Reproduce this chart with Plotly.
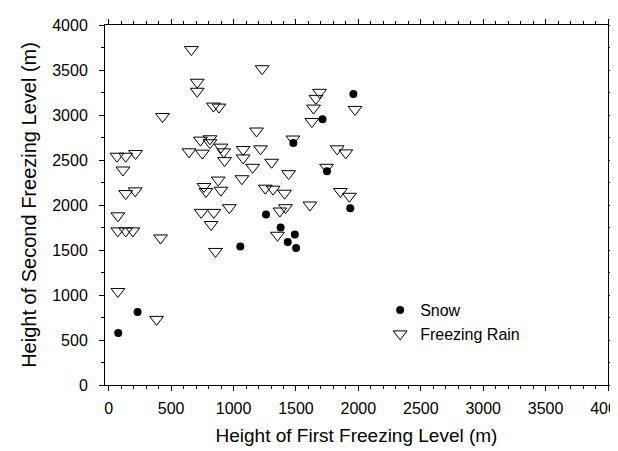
import plotly.graph_objects as go

# Freezing rain: first freezing level (m), second freezing level (m)
fzra_first = [662, 1229, 709, 709, 431, 839, 883, 643, 735, 750, 811, 811, 899, 921, 928,
              1077, 1077, 1184, 1216, 1153, 1305, 1067, 877, 899, 763, 779, 741, 842, 820,
              855, 966, 1254, 1317, 1409, 1441, 1371, 1416, 1352, 1476, 1628, 1641, 1660,
              1689, 1745, 1830, 1900, 1856, 1928, 1973, 1612, 66, 136, 215, 114, 136, 212,
              73, 73, 136, 193, 415, 73, 383]
fzra_second = [3727, 3514, 3364, 3264, 2983, 3099, 3088, 2591, 2721, 2576, 2736, 2692, 2643,
               2591, 2493, 2617, 2523, 2822, 2624, 2419, 2475, 2292, 2277, 2164, 2206, 2150,
               1918, 1918, 1783, 1484, 1970, 2187, 2176, 2131, 2348, 1933, 1970, 1664, 2733,
               2927, 3077, 3185, 3252, 2419, 2624, 2579, 2150, 2097, 3062, 2000, 2542, 2542,
               2572, 2389, 2127, 2157, 1880, 1712, 1712, 1712, 1634, 1039, 729]

# Snow
snow_first = [76, 231, 1054, 1260, 1377, 1434, 1491, 1501, 1479, 1713, 1748, 1960, 1935]
snow_second = [579, 811, 1540, 1895, 1750, 1589, 1671, 1521, 2688, 2953, 2374, 3234, 1963]

tick_values = [0, 500, 1000, 1500, 2000, 2500, 3000, 3500, 4000]

fig = go.Figure()
fig.add_trace(go.Scatter(
    x=snow_first, y=snow_second, mode="markers", name="Snow", legendgroup="snow",
    marker=dict(symbol="circle", size=8, color="black"),
))
fig.add_trace(go.Scatter(
    x=fzra_first, y=fzra_second, mode="markers", name="Freezing Rain", legendgroup="fzra",
    marker=dict(symbol="triangle-down-open", size=12, color="black",
                line=dict(width=1, color="black")),
))

font_family = "Liberation Sans, Arial, sans-serif"
axis_common = dict(
    showline=True, linecolor="black", linewidth=1, mirror="ticks",
    ticks="outside", ticklen=5, tickwidth=1, tickcolor="black",
    showgrid=False, zeroline=False, automargin=False,
    tickfont=dict(size=16, color="black", family=font_family),
    tickvals=tick_values,
)

fig.update_layout(
    width=618, height=451,
    margin=dict(l=97, r=18, t=17, b=74),
    paper_bgcolor="white", plot_bgcolor="white",
    font=dict(family=font_family, color="black"),
    xaxis=dict(range=[-30, 4000],
               title=dict(text="Height of First Freezing Level (m)", font=dict(size=19), standoff=12),
               minor=dict(ticks="outside", ticklen=3, tickcolor="black", dtick=100, showgrid=False),
               ticklabelstandoff=4,
               **axis_common),
    yaxis=dict(range=[0, 4000],
               title=dict(text="Height of Second Freezing Level (m)", font=dict(size=20), standoff=10),
               minor=dict(ticks="outside", ticklen=3, tickcolor="black", dtick=250, showgrid=False),
               ticklabelstandoff=8,
               **axis_common),
    legend=dict(x=0.547, y=0.255, xanchor="left", yanchor="top",
                bgcolor="rgba(0,0,0,0)", font=dict(size=16, color="black"),
                itemsizing="trace", tracegroupgap=0),
    showlegend=True,
)

fig.write_html("out.html")
